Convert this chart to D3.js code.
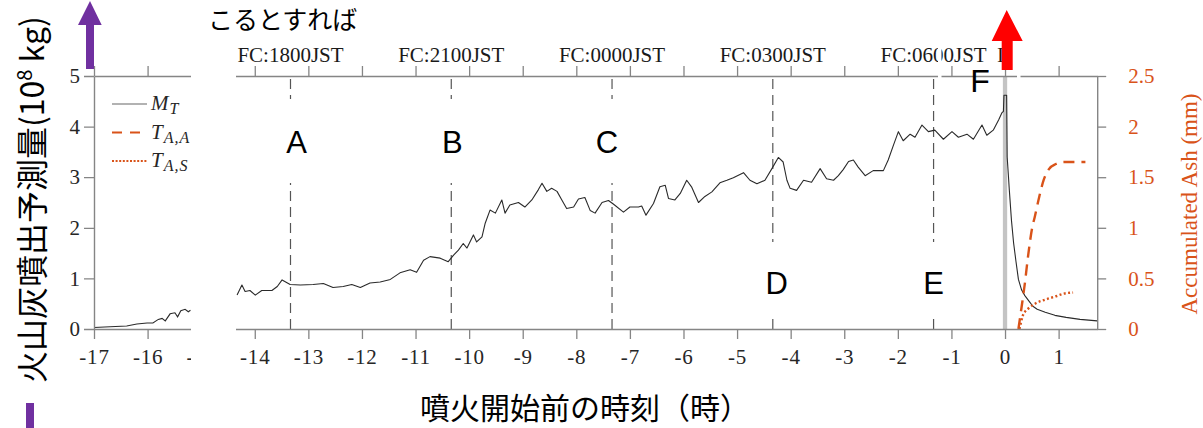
<!DOCTYPE html>
<html>
<head>
<meta charset="utf-8">
<script src="https://cdn.jsdelivr.net/npm/d3@7"></script>
<style>
  html, body { margin: 0; padding: 0; background: #fff; }
  svg { display: block; }
</style>
</head>
<body>
<script>
// ---- data -------------------------------------------------------------
// hour axis ticks (hours relative to eruption onset)
const hourTicks = [-17, -16, -15, -14, -13, -12, -11, -10, -9, -8, -7, -6, -5, -4, -3, -2, -1, 0, 1];
const massTicks = [0, 1, 2, 3, 4, 5];            // 10^8 kg
const ashTicks  = [0, 0.5, 1, 1.5, 2, 2.5];      // mm

// forecast issue times and their labels
const forecastTimes  = [-40 / 3, -31 / 3, -22 / 3, -13 / 3, -4 / 3];
const forecastLabels = ["FC:1800JST", "FC:2100JST", "FC:0000JST", "FC:0300JST", "FC:0600JST"];
const eventLetters   = ["A", "B", "C", "D", "E"];

// predicted ash emission M_T, early segment (left panel)
const mtEarlyTime = [-17.0, -16.7, -16.39, -16.2, -16.01, -15.9, -15.8, -15.73, -15.67, -15.58, -15.49, -15.44, -15.38, -15.3, -15.24, -15.2];
const mtEarlyMass = [0.03, 0.045, 0.06, 0.1, 0.12, 0.12, 0.19, 0.21, 0.16, 0.3, 0.32, 0.24, 0.36, 0.39, 0.34, 0.37];

// predicted ash emission M_T, main segment
const mtTime = [
  -14.33, -14.24, -14.18, -14.09, -13.99, -13.87, -13.68, -13.58, -13.49, -13.34,
  -13.15, -12.91, -12.72, -12.54, -12.35, -12.19, -12.03, -11.85, -11.66, -11.47,
  -11.29, -11.1, -10.98, -10.85, -10.73, -10.54, -10.39, -10.29, -10.2, -10.11,
  -10.04, -9.92, -9.86, -9.76, -9.7, -9.61, -9.51, -9.39, -9.33, -9.24,
  -9.08, -8.96, -8.83, -8.71, -8.64, -8.55, -8.46, -8.36, -8.27, -8.18,
  -8.05, -7.96, -7.84, -7.74, -7.65, -7.52, -7.4, -7.31, -7.12, -7.0,
  -6.84, -6.78, -6.7, -6.56, -6.44, -6.34, -6.28, -6.16, -6.06, -5.94,
  -5.85, -5.72, -5.6, -5.47, -5.32, -5.19, -5.07, -4.88, -4.76, -4.63,
  -4.48, -4.35, -4.23, -4.14, -4.07, -4.01, -3.89, -3.76, -3.61, -3.45,
  -3.33, -3.2, -3.11, -3.02, -2.92, -2.83, -2.74, -2.61, -2.46, -2.27,
  -2.18, -2.08, -1.99, -1.9, -1.77, -1.68, -1.55, -1.43, -1.31, -1.15,
  -0.99, -0.87, -0.71, -0.59, -0.43, -0.34, -0.22, -0.12, -0.06, -0.03,
  -0.02, 0.03, 0.04, 0.062, 0.08, 0.12, 0.16, 0.205, 0.25, 0.31,
  0.37, 0.44, 0.52, 0.6, 0.75, 0.93, 1.14, 1.4, 1.72
];
const mtMass = [
  0.67, 0.87, 0.74, 0.76, 0.67, 0.76, 0.76, 0.84, 0.97, 0.88,
  0.87, 0.88, 0.9, 0.82, 0.84, 0.88, 0.82, 0.91, 0.93, 0.98,
  1.11, 1.17, 1.12, 1.36, 1.43, 1.4, 1.33, 1.46, 1.56, 1.69,
  1.6, 1.86, 1.72, 1.82, 2.09, 2.35, 2.29, 2.55, 2.29, 2.45,
  2.5, 2.41, 2.55, 2.75, 2.88, 2.72, 2.78, 2.72, 2.55, 2.38,
  2.41, 2.57, 2.6, 2.34, 2.29, 2.5, 2.54, 2.47, 2.31, 2.41,
  2.41, 2.43, 2.25, 2.48, 2.81, 2.84, 2.58, 2.55, 2.68, 2.94,
  2.81, 2.5, 2.62, 2.71, 2.89, 2.94, 2.99, 3.09, 2.94, 2.87,
  2.94, 3.17, 3.39, 3.3, 2.94, 2.78, 2.74, 2.94, 2.9, 3.17,
  2.97, 2.94, 3.03, 3.15, 3.31, 3.34, 3.2, 3.03, 3.13, 3.13,
  3.34, 3.64, 3.9, 3.72, 3.85, 3.79, 4.03, 3.9, 3.93, 3.75,
  3.9, 3.79, 3.85, 3.75, 4.03, 3.83, 3.93, 4.13, 4.27, 4.3,
  4.62, 4.62, 3.4, 3.05, 2.75, 2.15, 1.7, 1.33, 0.98, 0.77,
  0.66, 0.56, 0.45, 0.39, 0.33, 0.27, 0.23, 0.19, 0.16
];

// accumulated ash, T_{A,A}
const taaTime = [0.25, 0.31, 0.37, 0.43, 0.5, 0.56, 0.64, 0.72, 0.82, 0.95, 1.1, 1.5];
const taaAsh  = [0, 0.22, 0.45, 0.72, 0.98, 1.12, 1.31, 1.47, 1.58, 1.63, 1.65, 1.65];

// accumulated ash, T_{A,S}
const tasTime = [0.27, 0.3, 0.33, 0.37, 0.43, 0.56, 0.75, 0.93, 1.1, 1.27];
const tasAsh  = [0, 0.07, 0.13, 0.17, 0.2, 0.25, 0.29, 0.32, 0.35, 0.36];

// ---- drawing ------------------------------------------------------------
const W = 1203, H = 428;
const ORANGE = "#D95319";
const AXIS = "#858585";
const SERIF = "'Liberation Serif', 'DejaVu Serif', serif";
const SANS = "'Liberation Sans', Arial, sans-serif";
const CJK = "'Noto Sans CJK JP', 'Noto Sans', sans-serif";

const x  = d3.scaleLinear().domain([-17, 1.72]).range([94, 1097.2]);
const yM = d3.scaleLinear().domain([0, 5]).range([329, 76]);
const yA = d3.scaleLinear().domain([0, 2.5]).range([329, 76]);

const svg = d3.select("body").append("svg").attr("width", W).attr("height", H);

// broken time axis: two visible panels
const clip = svg.append("defs").append("clipPath").attr("id", "panels");
clip.append("rect").attr("x", 0).attr("y", 0).attr("width", 191).attr("height", H);
clip.append("rect").attr("x", 236).attr("y", 0).attr("width", W - 236).attr("height", H);

const g = svg.append("g").attr("clip-path", "url(#panels)");

// eruption onset marker
g.append("rect")
  .attr("x", x(-0.04)).attr("width", x(0.04) - x(-0.04))
  .attr("y", yM(5)).attr("height", yM(0) - yM(5))
  .attr("fill", "#c4c4c4");

// forecast issue lines
g.selectAll("line.fc").data(forecastTimes).join("line")
  .attr("class", "fc")
  .attr("x1", d => x(d)).attr("x2", d => x(d))
  .attr("y1", yM(0)).attr("y2", yM(5))
  .attr("stroke", "#555").attr("stroke-width", 1.2)
  .attr("stroke-dasharray", "10,6");

// M_T series
const lineM = d3.line().x(d => x(d[0])).y(d => yM(d[1]));
g.append("path").datum(d3.zip(mtEarlyTime, mtEarlyMass))
  .attr("d", lineM).attr("fill", "none").attr("stroke", "#2a2a2a").attr("stroke-width", 1.1);
g.append("path").datum(d3.zip(mtTime, mtMass))
  .attr("d", lineM).attr("fill", "none").attr("stroke", "#2a2a2a").attr("stroke-width", 1.1)
  .attr("stroke-linejoin", "round");

// accumulated ash series
const lineA = d3.line().x(d => x(d[0])).y(d => yA(d[1])).curve(d3.curveMonotoneX);
g.append("path").datum(d3.zip(taaTime, taaAsh))
  .attr("d", lineA).attr("fill", "none").attr("stroke", ORANGE).attr("stroke-width", 2.4)
  .attr("stroke-dasharray", "11,7");
g.append("path").datum(d3.zip(tasTime, tasAsh))
  .attr("d", lineA).attr("fill", "none").attr("stroke", ORANGE).attr("stroke-width", 2.4)
  .attr("stroke-dasharray", "2,2.4");

// axes
function styleAxis(sel, textColor) {
  sel.selectAll("path.domain").attr("stroke", AXIS).attr("stroke-width", 1.4);
  sel.selectAll(".tick line").attr("stroke", AXIS).attr("stroke-width", 1.3);
  sel.selectAll("text").attr("font-family", SERIF).attr("font-size", 21).attr("fill", textColor);
}
g.append("g").attr("transform", `translate(0,${yM(0)})`)
  .call(d3.axisBottom(x).tickValues(hourTicks).tickFormat(d => String(d))
    .tickSize(10).tickSizeOuter(0).tickPadding(10))
  .call(s => styleAxis(s, "#262626"))
  .call(s => s.selectAll("text").attr("letter-spacing", 0.8));
g.append("g").attr("transform", `translate(0,${yM(5)})`)
  .call(d3.axisTop(x).tickValues(hourTicks).tickFormat("").tickSize(10).tickSizeOuter(0))
  .call(s => styleAxis(s, "#262626"));
g.append("g").attr("transform", `translate(${x(-17)},0)`)
  .call(d3.axisLeft(yM).tickValues(massTicks).tickFormat(d => String(d))
    .tickSize(10).tickSizeOuter(0).tickPadding(4))
  .call(s => styleAxis(s, "#262626"));
g.append("g").attr("transform", `translate(${x(1.72)},0)`)
  .call(d3.axisRight(yA).tickValues(ashTicks).tickFormat(d => String(d))
    .tickSize(9).tickSizeOuter(0).tickPadding(22))
  .call(s => styleAxis(s, ORANGE));

// legend
const legend = g.append("g").attr("font-family", SERIF).attr("font-style", "italic").attr("fill", "#262626");
const legendItems = [
  { main: "M", sub: "T",   stroke: "#666",  dash: null,    width: 1.2 },
  { main: "T", sub: "A,A", stroke: ORANGE,  dash: "10,8",  width: 2.2 },
  { main: "T", sub: "A,S", stroke: ORANGE,  dash: "2,1.6", width: 2.2 }
];
legendItems.forEach((it, i) => {
  const ly = 104 + i * 28.5;
  legend.append("line").attr("x1", 112).attr("x2", 147).attr("y1", ly).attr("y2", ly)
    .attr("stroke", it.stroke).attr("stroke-width", it.width)
    .attr("stroke-dasharray", it.dash);
  const t = legend.append("text").attr("x", 151).attr("y", ly + 6).attr("font-size", 21);
  t.append("tspan").text(it.main);
  t.append("tspan").attr("font-size", 16).attr("dx", 1).attr("dy", 4).attr("letter-spacing", 1).text(it.sub);
});

// ---- annotations -------------------------------------------------------
// label backgrounds that interrupt the forecast lines
const letterDx = [6, 1, -5, 4, 0];
forecastTimes.forEach((t, i) => {
  const upper = i < 3;
  svg.append("rect")
    .attr("x", x(t) - 16).attr("width", 32)
    .attr("y", upper ? 99 : 242).attr("height", upper ? 84 : 76)
    .attr("fill", "#fff");
  svg.append("text")
    .attr("x", x(t) + letterDx[i]).attr("y", upper ? 153 : 294)
    .attr("text-anchor", "middle")
    .attr("font-family", SANS).attr("font-size", 31).attr("fill", "#000")
    .text(eventLetters[i]);
});

// forecast labels above the top axis
svg.selectAll("text.fcl").data(forecastTimes).join("text")
  .attr("class", "fcl")
  .attr("x", d => x(d)).attr("y", 62)
  .attr("text-anchor", "middle")
  .attr("font-family", SERIF).attr("font-size", 21).attr("fill", "#1a1a1a")
  .text((d, i) => forecastLabels[i]);
svg.append("text").attr("x", 997).attr("y", 62)
  .attr("font-family", SERIF).attr("font-size", 21).attr("fill", "#1a1a1a").text("I");

// thin white cuts
svg.append("rect").attr("x", 938).attr("y", 40).attr("width", 3.5).attr("height", 40).attr("fill", "#fff");
svg.append("rect").attr("x", 1017).attr("y", 62).attr("width", 3.5).attr("height", 18).attr("fill", "#fff");

// eruption letter
svg.append("text").attr("x", 980).attr("y", 92).attr("text-anchor", "middle")
  .attr("font-family", SANS).attr("font-size", 32).attr("fill", "#000").text("F");

// red arrow at eruption onset
svg.append("path")
  .attr("d", "M1006.7,10 L1022.7,41 L1012.7,41 L1012.7,70 L1001.7,70 L1001.7,41 L991.7,41 Z")
  .attr("fill", "#ff0000");

// purple arrow and bar
svg.append("path")
  .attr("d", "M90,1 L101.7,25 L94,25 L94,69 L86,69 L86,25 L78,25 Z")
  .attr("fill", "#7030A0");
svg.append("rect").attr("x", 26).attr("y", 403).attr("width", 8).attr("height", 25).attr("fill", "#7030A0");

// heading fragment
svg.append("text").attr("x", 208).attr("y", 29)
  .attr("font-family", CJK).attr("font-size", 25).attr("fill", "#000")
  .text("こるとすれば");

// axis titles
svg.append("text").attr("x", 585).attr("y", 419).attr("text-anchor", "middle")
  .attr("font-family", CJK).attr("font-size", 30).attr("fill", "#000")
  .text("噴火開始前の時刻（時）");

const yTitle = svg.append("text")
  .attr("transform", "translate(44,383) rotate(-90)")
  .attr("font-family", CJK).attr("font-size", 32).attr("fill", "#000");
yTitle.append("tspan").text("火山灰噴出予測量(10");
yTitle.append("tspan").attr("font-size", 20).attr("dy", -12).text("8");
yTitle.append("tspan").attr("dy", 12).text(" kg)");

svg.append("text")
  .attr("transform", "translate(1197,204) rotate(-90)")
  .attr("text-anchor", "middle")
  .attr("font-family", SERIF).attr("font-size", 23).attr("fill", ORANGE)
  .text("Accumulated Ash (mm)");
</script>
</body>
</html>
